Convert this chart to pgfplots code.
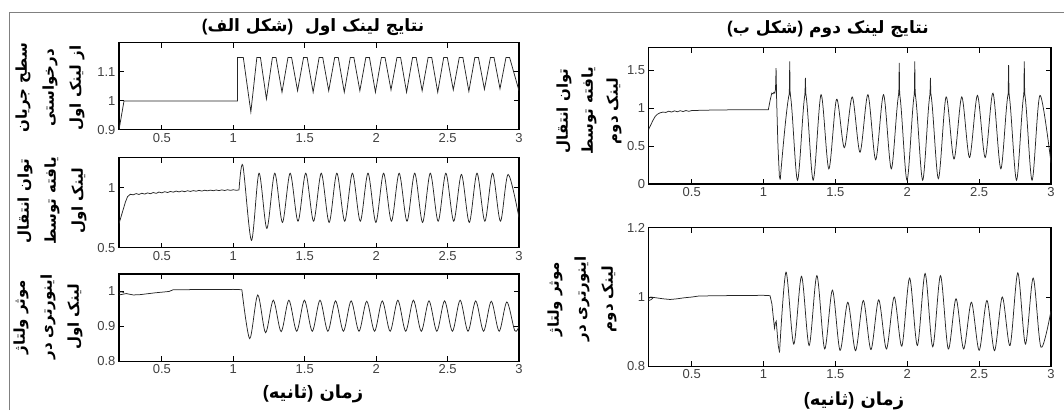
\documentclass[border=0pt]{standalone}
\usepackage{pgfplots}
\pgfplotsset{compat=1.18}
\usepackage{fontspec}
\setmainfont{Liberation Sans}
\newfontfamily\fa[Script=Arabic]{DejaVu Sans}
\TeXXeTstate=1
\pgfplotsset{
  mystyle/.style={
    scale only axis, xmin=0.2, xmax=3,
    xtick={0.5,1,1.5,2,2.5,3},
    tick align=inside, major tick length=5pt,
    axis line style={line width=1.1pt, black},
    tick style={line width=0.9pt, black},
    ticklabel style={font=\fontsize{13}{13}\selectfont, text=black!75},
    /pgf/number format/assume math mode=true,
    anchor=north west,
    every axis plot post/.append style={black!85, line width=0.75pt, mark=none},
  }
}
\newcommand{\lp}{{\rmfamily\bfseries(}}
\newcommand{\rp}{{\rmfamily\bfseries)}}
\begin{document}
\begin{tikzpicture}
\path[use as bounding box] (0pt,0pt) rectangle (1064pt,-410pt);
\draw[black!50, line width=1pt] (9.5pt,-410pt) -- (9.5pt,-12.5pt) -- (1064pt,-12.5pt);

% ---------- left top
\begin{axis}[mystyle, at={(119pt,-42.9pt)}, width=400pt, height=87pt,
  ymin=0.9, ymax=1.2, ytick={0.9,1,1.1}]
\addplot coordinates {(0.2,0.9) (0.235,1.0) (1.03,1.0) (1.03,1.15) (1.07,1.15)
(1.123,0.962) (1.165,1.15) (1.19,1.15)
(1.232,1.007) (1.274,1.15) (1.299,1.15)
(1.341,1.03) (1.383,1.15) (1.408,1.15)
(1.450,1.035) (1.492,1.15) (1.517,1.15)
(1.559,1.03) (1.601,1.15) (1.626,1.15)
(1.668,1.035) (1.710,1.15) (1.735,1.15)
(1.777,1.03) (1.819,1.15) (1.844,1.15)
(1.886,1.035) (1.928,1.15) (1.953,1.15)
(1.995,1.03) (2.037,1.15) (2.062,1.15)
(2.104,1.038) (2.146,1.15) (2.171,1.15)
(2.213,1.03) (2.255,1.15) (2.280,1.15)
(2.322,1.035) (2.364,1.15) (2.389,1.15)
(2.431,1.03) (2.473,1.15) (2.498,1.15)
(2.540,1.038) (2.582,1.15) (2.607,1.15)
(2.649,1.033) (2.691,1.15) (2.716,1.15)
(2.758,1.04) (2.800,1.15) (2.825,1.15)
(2.867,1.042) (2.909,1.15) (2.934,1.15)
(3.0,1.035)};
\end{axis}

% ---------- left middle
\begin{axis}[mystyle, at={(119pt,-157.6pt)}, width=400pt, height=90pt,
  ymin=0.5, ymax=1.25, ytick={0.5,1}]
\addplot coordinates {(0.2,0.70) (0.215,0.76) (0.23,0.82) (0.245,0.88) (0.26,0.925) (0.275,0.94)
(0.28,0.944) (0.30,0.940) (0.32,0.950) (0.34,0.943) (0.36,0.953) (0.38,0.946) (0.40,0.956) (0.42,0.949)
(0.44,0.959) (0.46,0.952) (0.48,0.963) (0.50,0.956) (0.52,0.966) (0.54,0.959) (0.56,0.968) (0.58,0.962)
(0.60,0.971) (0.62,0.964) (0.64,0.972) (0.66,0.966) (0.68,0.974) (0.70,0.968) (0.72,0.975) (0.74,0.970)
(0.76,0.977) (0.78,0.971) (0.80,0.978) (0.82,0.973) (0.84,0.979) (0.86,0.974) (0.88,0.980) (0.90,0.975)
(0.92,0.981) (0.94,0.976) (0.96,0.982) (0.98,0.977) (1.00,0.982) (1.02,0.978) (1.04,0.98)};
\addplot[smooth] coordinates {(1.04,0.98) (1.067,1.185) (1.127,0.56) (1.18,1.12) (1.235,0.66)
(1.29,1.12) (1.344,0.71) (1.398,1.12) (1.453,0.72) (1.507,1.12) (1.562,0.72) (1.616,1.12)
(1.671,0.71) (1.725,1.12) (1.780,0.72) (1.834,1.12) (1.889,0.72) (1.943,1.12) (1.998,0.71)
(2.052,1.12) (2.107,0.72) (2.161,1.12) (2.216,0.72) (2.270,1.12) (2.325,0.71) (2.379,1.12)
(2.434,0.72) (2.488,1.12) (2.543,0.72) (2.597,1.11) (2.652,0.71) (2.706,1.12) (2.761,0.72)
(2.815,1.12) (2.870,0.72) (2.924,1.11) (3.0,0.75)};
\end{axis}

% ---------- left bottom
\begin{axis}[mystyle, at={(119pt,-274pt)}, width=400pt, height=87.3pt,
  ymin=0.8, ymax=1.05, ytick={0.8,0.9,1}]
\addplot coordinates {(0.2,0.998) (0.215,0.999) (0.235,0.997)};
\addplot coordinates {(0.2,0.99) (0.25,0.994) (0.3,0.99) (0.35,0.991) (0.45,0.996) (0.55,1.0)
(0.58,1.005) (1.0,1.006) (1.06,1.005)};
\addplot[smooth] coordinates {(1.06,1.005) (1.115,0.865) (1.171,0.99) (1.226,0.882) (1.28,0.975)
(1.335,0.885) (1.389,0.975) (1.444,0.886) (1.498,0.975) (1.553,0.886) (1.607,0.975) (1.662,0.886)
(1.716,0.973) (1.771,0.886) (1.825,0.973) (1.880,0.886) (1.934,0.972) (1.989,0.886) (2.043,0.973)
(2.098,0.886) (2.152,0.975) (2.207,0.886) (2.261,0.975) (2.316,0.886) (2.370,0.973) (2.425,0.886)
(2.479,0.973) (2.534,0.886) (2.588,0.975) (2.643,0.886) (2.697,0.973) (2.752,0.886) (2.806,0.972)
(2.861,0.886) (2.915,0.97) (2.970,0.888) (3.0,0.9)};
\end{axis}

% ---------- right top
\begin{axis}[mystyle, at={(648.6pt,-47.7pt)}, width=402.4pt, height=136.3pt,
  ymin=0, ymax=1.8, ytick={0,0.5,1,1.5}]
\addplot coordinates {(0.2,0.72) (0.215,0.78) (0.23,0.84) (0.245,0.89) (0.26,0.92) (0.28,0.94)
(0.30,0.95) (0.32,0.945) (0.34,0.962) (0.36,0.950) (0.38,0.966) (0.40,0.954) (0.42,0.968) (0.44,0.957)
(0.46,0.970) (0.48,0.960) (0.5,0.97) (0.6,0.975) (0.7,0.978) (0.8,0.98) (1.0,0.98) (1.033,0.98)
(1.045,1.1) (1.057,1.2) (1.065,1.19) (1.072,1.21) (1.078,1.2) (1.083,1.25) (1.087,1.53)
(1.091,1.1) (1.1,0.5) (1.11,0.1) (1.116,0.06)};
\addplot[smooth] coordinates {(1.116,0.06) (1.182,1.2) (1.236,0.05) (1.291,1.2) (1.345,0.05)
(1.400,1.18) (1.454,0.2) (1.508,1.12) (1.562,0.48) (1.617,1.15) (1.671,0.42) (1.726,1.18)
(1.780,0.32) (1.835,1.18) (1.889,0.2) (1.944,1.2) (1.998,0.05) (2.052,1.2) (2.107,0.05)
(2.161,1.2) (2.216,0.07) (2.270,1.15) (2.325,0.33) (2.379,1.15) (2.433,0.35) (2.488,1.17)
(2.542,0.35) (2.596,1.2) (2.651,0.2) (2.705,1.2) (2.760,0.05) (2.814,1.2) (2.868,0.05)
(2.923,1.17) (3.0,0.28)};
\addplot[line width=1pt] coordinates {(1.179,1.19) (1.182,1.62) (1.185,1.17)};
\addplot[line width=1pt] coordinates {(1.288,1.19) (1.291,1.40) (1.294,1.17)};
\addplot[line width=1pt] coordinates {(1.941,1.19) (1.944,1.60) (1.947,1.17)};
\addplot[line width=1pt] coordinates {(2.049,1.19) (2.052,1.62) (2.055,1.17)};
\addplot[line width=1pt] coordinates {(2.158,1.19) (2.161,1.40) (2.164,1.17)};
\addplot[line width=1pt] coordinates {(2.702,1.19) (2.705,1.57) (2.708,1.17)};
\addplot[line width=1pt] coordinates {(2.811,1.19) (2.814,1.62) (2.817,1.17)};
\end{axis}

% ---------- right bottom
\begin{axis}[mystyle, at={(648.6pt,-227.9pt)}, width=402.4pt, height=138.3pt,
  ymin=0.8, ymax=1.2, ytick={0.8,1,1.2}]
\addplot coordinates {(0.2,0.99) (0.215,0.992) (0.23,0.997)};
\addplot coordinates {(0.2,0.996) (0.215,1.0) (0.25,0.998) (0.3,0.995) (0.35,0.993) (0.4,0.995)
(0.45,0.998) (0.5,1.0) (0.55,1.003) (0.7,1.004) (1.0,1.005) (1.045,1.004) (1.058,0.98)
(1.068,0.94) (1.076,0.91) (1.082,0.925) (1.088,0.93) (1.094,0.9) (1.102,0.86) (1.111,0.84)};
\addplot[smooth] coordinates {(1.111,0.84) (1.156,1.072) (1.210,0.864) (1.264,1.06) (1.317,0.86)
(1.371,1.062) (1.425,0.85) (1.479,1.02) (1.532,0.846) (1.586,0.985) (1.640,0.845) (1.694,0.99)
(1.747,0.848) (1.801,0.992) (1.855,0.85) (1.909,1.0) (1.962,0.858) (2.016,1.055) (2.070,0.86)
(2.124,1.068) (2.177,0.856) (2.231,1.062) (2.285,0.85) (2.339,0.995) (2.392,0.85) (2.446,0.985)
(2.500,0.846) (2.554,0.99) (2.607,0.845) (2.661,1.0) (2.715,0.86) (2.769,1.07) (2.822,0.864)
(2.876,1.055) (2.930,0.855) (3.0,0.96)};
\end{axis}

% ---------- texts
\node[font=\fa\bfseries\fontsize{17}{17}\selectfont] at (313pt,-27pt) {\lp\beginR شکل الف\endR\rp\ \ \beginR نتایج لینک اول\endR};
\node[font=\fa\bfseries\fontsize{17}{17}\selectfont] at (828pt,-29pt) {\lp\beginR شکل ب\endR\rp\ \beginR نتایج لینک دوم\endR};
\node[font=\fa\bfseries\fontsize{18}{18}\selectfont] at (313pt,-394pt) {\lp\beginR ثانیه\endR\rp\ \beginR زمان\endR};
\node[font=\fa\bfseries\fontsize{18}{18}\selectfont] at (854pt,-401pt) {\lp\beginR ثانیه\endR\rp\ \beginR زمان\endR};

\node[rotate=90, align=center, font=\fa\bfseries\fontsize{15}{27}\selectfont] at (50pt,-88pt)
 {\beginR سطح جریان\endR\\\beginR درخواستی\endR\\\beginR از لینک اول\endR};
\node[rotate=90, align=center, font=\fa\bfseries\fontsize{15}{27}\selectfont] at (52pt,-201pt)
 {\beginR توان انتقال\endR\\\beginR یافته توسط\endR\\\beginR لینک اول\endR};
\node[rotate=90, align=center, font=\fa\bfseries\fontsize{15}{27}\selectfont] at (48pt,-317pt)
 {\beginR موثر ولتاژ\endR\\\beginR اینورتری در\endR\\\beginR لینک اول\endR};
\node[rotate=90, align=center, font=\fa\bfseries\fontsize{15}{25}\selectfont] at (589pt,-111pt)
 {\beginR توان انتقال\endR\\\beginR یافته توسط\endR\\\beginR لینک دوم\endR};
\node[rotate=90, align=center, font=\fa\bfseries\fontsize{15}{27}\selectfont] at (582pt,-299pt)
 {\beginR موثر ولتاژ\endR\\\beginR اینورتری در\endR\\\beginR لینک دوم\endR};
\end{tikzpicture}
\end{document}
